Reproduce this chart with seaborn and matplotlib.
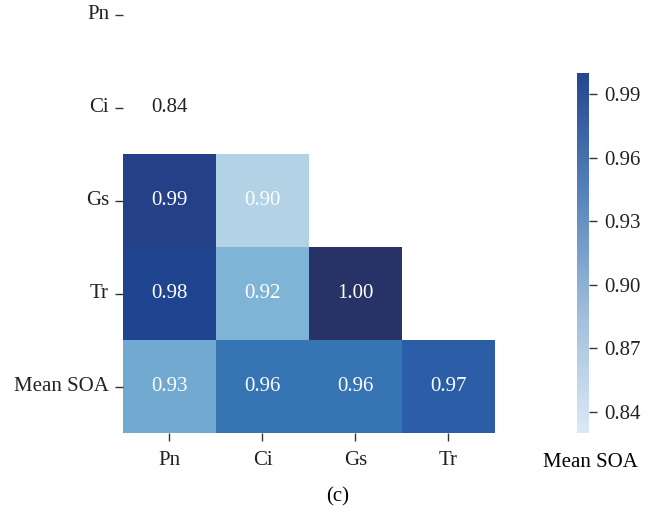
import numpy as np
import pandas as pd
import seaborn as sns
import matplotlib.pyplot as plt
from matplotlib.colors import LinearSegmentedColormap, Normalize
from matplotlib.cm import ScalarMappable

plt.rcParams['font.family'] = ['Liberation Serif', 'DejaVu Serif']
plt.rcParams['font.size'] = 15

# Correlation values (lower triangle only)
rows = ['Pn', 'Ci', 'Gs', 'Tr', 'Mean SOA']
cols = ['Pn', 'Ci', 'Gs', 'Tr']
row_ci = [0.84, np.nan, np.nan, np.nan]
row_gs = [0.99, 0.90, np.nan, np.nan]
row_tr = [0.98, 0.92, 1.00, np.nan]
row_soa = [0.93, 0.96, 0.96, 0.97]
row_pn = [np.nan, np.nan, np.nan, np.nan]
cbar_ticks = [0.84, 0.87, 0.90, 0.93, 0.96, 0.99]

df = pd.DataFrame([row_pn, row_ci, row_gs, row_tr, row_soa], index=rows, columns=cols)
mask = np.triu(np.ones(df.shape, dtype=bool))

# colours as they appear in the figure
cell_cmap = LinearSegmentedColormap.from_list('cells', [
    (0.0, '#ffffff'), (0.375, '#b3d3e6'), (0.5, '#80b4d6'), (0.5625, '#72aad0'),
    (0.75, '#3674b4'), (0.8125, '#2c5ea8'), (0.875, '#1f4590'),
    (0.9375, '#24418a'), (1.0, '#273266')])
bar_cmap = LinearSegmentedColormap.from_list('bar', ['#dbe9f6', '#9fbddb', '#5583bb', '#24468f'])

fig = plt.figure(figsize=(6.51, 5.17), dpi=100)
ax = fig.add_axes([123 / 651, 84 / 517, 372 / 651, 465 / 517])
cax = fig.add_axes([577 / 651, 84 / 517, 12 / 651, 360 / 517])

sns.heatmap(df, mask=mask, cmap=cell_cmap, vmin=0.84, vmax=1.0, annot=True, fmt='.2f',
            cbar=False, ax=ax, annot_kws={'size': 15})

# white labels except the lightest cell
for t in ax.texts:
    t.set_color('#222222' if t.get_text() == '0.84' else 'white')

ax.tick_params(axis='both', length=6, width=1, color='#333333', labelcolor='#222222', labelsize=15, pad=4)
ax.tick_params(axis='x', pad=7)
ax.set_yticklabels(rows, rotation=0)
ax.set_xticklabels(cols, rotation=0)
ax.set_xlabel('')
ax.set_ylabel('')

cbar = fig.colorbar(ScalarMappable(norm=Normalize(0.83, 1.0), cmap=bar_cmap), cax=cax, ticks=cbar_ticks)
cbar.outline.set_visible(False)
cbar.ax.tick_params(length=6, width=1, color='#333333', labelcolor='#222222', labelsize=15, pad=5)
cbar.ax.set_yticklabels(['%.2f' % v for v in cbar_ticks])
cax.set_xlabel('Mean SOA', fontsize=15)
cax.xaxis.set_label_coords(1.15, -0.055)

fig.text(338 / 651, 1 - 497 / 517, '(c)', ha='center', va='center', fontsize=15)

plt.savefig('out.png', dpi=100)
